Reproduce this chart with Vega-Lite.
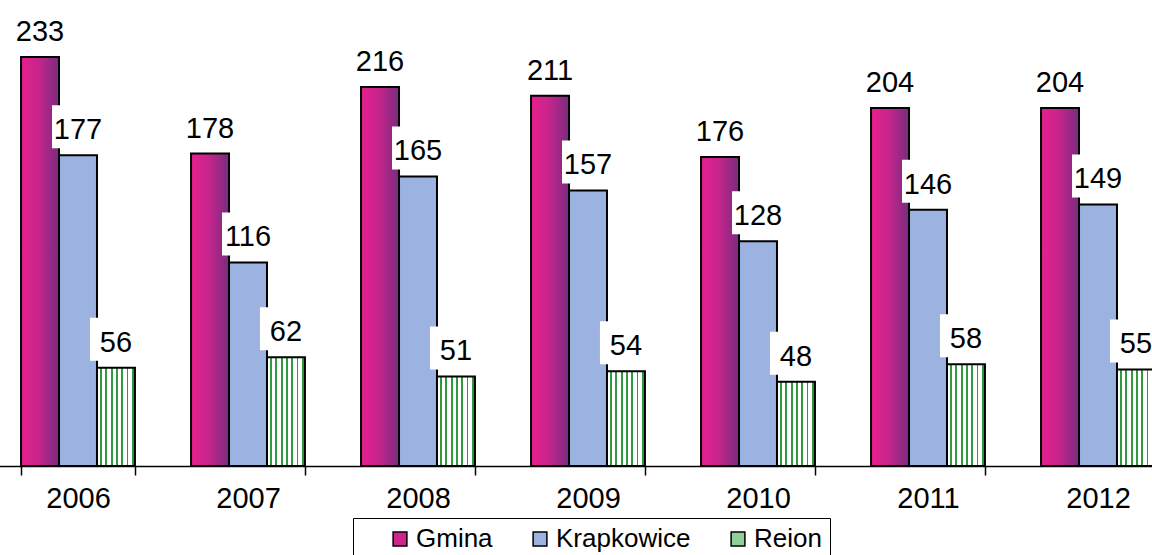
{
  "$schema": "https://vega.github.io/schema/vega-lite/v6.json",
  "width": 1152,
  "height": 466,
  "autosize": {"type": "none"},
  "padding": {"left": 0, "top": 0, "right": 0, "bottom": 89},
  "background": "white",
  "config": {
    "view": {"stroke": null},
    "font": "Liberation Sans",
    "axis": {"labelFont": "Liberation Sans", "labelColor": "black"}
  },
  "data": {
    "values": [
      {"year": "2006", "series": "Gmina", "value": 233},
      {"year": "2006", "series": "Krapkowice", "value": 177},
      {"year": "2006", "series": "Reion", "value": 56},
      {"year": "2007", "series": "Gmina", "value": 178},
      {"year": "2007", "series": "Krapkowice", "value": 116},
      {"year": "2007", "series": "Reion", "value": 62},
      {"year": "2008", "series": "Gmina", "value": 216},
      {"year": "2008", "series": "Krapkowice", "value": 165},
      {"year": "2008", "series": "Reion", "value": 51},
      {"year": "2009", "series": "Gmina", "value": 211},
      {"year": "2009", "series": "Krapkowice", "value": 157},
      {"year": "2009", "series": "Reion", "value": 54},
      {"year": "2010", "series": "Gmina", "value": 176},
      {"year": "2010", "series": "Krapkowice", "value": 128},
      {"year": "2010", "series": "Reion", "value": 48},
      {"year": "2011", "series": "Gmina", "value": 204},
      {"year": "2011", "series": "Krapkowice", "value": 146},
      {"year": "2011", "series": "Reion", "value": 58},
      {"year": "2012", "series": "Gmina", "value": 204},
      {"year": "2012", "series": "Krapkowice", "value": 149},
      {"year": "2012", "series": "Reion", "value": 55}
    ]
  },
  "encoding": {
    "x": {
      "field": "year", "type": "nominal",
      "scale": {"range": [-7, 1183], "paddingInner": 0.33, "paddingOuter": 0.165},
      "axis": {
        "title": null, "labelAngle": 0, "labelFontSize": 29, "labelPadding": 9,
        "tickBand": "extent", "tickSize": 9, "tickColor": "black", "tickWidth": 1.5,
        "domainColor": "black", "domainWidth": 1.5, "grid": false
      }
    },
    "xOffset": {"field": "series", "type": "nominal", "scale": {"domain": ["Gmina", "Krapkowice", "Reion"], "paddingInner": 0, "paddingOuter": 0}},
    "y": {"field": "value", "type": "quantitative", "scale": {"domain": [0, 265.5], "nice": false}, "axis": null}
  },
  "layer": [
    {
      "mark": {"type": "bar", "stroke": "black", "strokeWidth": 2},
      "encoding": {
        "fill": {
          "condition": [
            {"test": "datum.series === 'Gmina'", "value": {"gradient": "linear", "x1": 0, "y1": 0, "x2": 1, "y2": 0, "stops": [{"offset": 0, "color": "#e8208f"}, {"offset": 0.45, "color": "#c8248c"}, {"offset": 1, "color": "#782c7f"}]}},
            {"test": "datum.series === 'Reion'", "value": {"gradient": "linear", "x1": 0, "y1": 0, "x2": 1, "y2": 0, "stops": [
              {"offset": 0, "color": "#ffffff"}, {"offset": 0.08, "color": "#ffffff"}, {"offset": 0.08, "color": "#2f9a3e"}, {"offset": 0.13, "color": "#2f9a3e"}, {"offset": 0.13, "color": "#ffffff"},
              {"offset": 0.22, "color": "#ffffff"}, {"offset": 0.22, "color": "#2f9a3e"}, {"offset": 0.27, "color": "#2f9a3e"}, {"offset": 0.27, "color": "#ffffff"},
              {"offset": 0.36, "color": "#ffffff"}, {"offset": 0.36, "color": "#2f9a3e"}, {"offset": 0.41, "color": "#2f9a3e"}, {"offset": 0.41, "color": "#ffffff"},
              {"offset": 0.50, "color": "#ffffff"}, {"offset": 0.50, "color": "#2f9a3e"}, {"offset": 0.55, "color": "#2f9a3e"}, {"offset": 0.55, "color": "#ffffff"},
              {"offset": 0.64, "color": "#ffffff"}, {"offset": 0.64, "color": "#2f9a3e"}, {"offset": 0.69, "color": "#2f9a3e"}, {"offset": 0.69, "color": "#ffffff"},
              {"offset": 0.78, "color": "#ffffff"}, {"offset": 0.78, "color": "#2f9a3e"}, {"offset": 0.83, "color": "#2f9a3e"}, {"offset": 0.83, "color": "#ffffff"},
              {"offset": 0.92, "color": "#ffffff"}, {"offset": 0.92, "color": "#2f9a3e"}, {"offset": 0.97, "color": "#2f9a3e"}, {"offset": 0.97, "color": "#ffffff"},
              {"offset": 1, "color": "#ffffff"}]}}
          ],
          "field": "series", "type": "nominal",
          "scale": {"domain": ["Gmina", "Krapkowice", "Reion"], "range": ["#d0238e", "#9cb3e2", "#8fcf98"]},
          "legend": {
            "title": null, "orient": "none", "legendX": 353, "legendY": 518, "direction": "horizontal",
            "strokeColor": "black", "padding": 8, "symbolType": "square", "symbolSize": 190,
            "symbolStrokeColor": "black", "symbolStrokeWidth": 1.5, "symbolOffset": 26,
            "labelFontSize": 26, "labelFont": "Liberation Sans", "labelColor": "black",
            "columnPadding": 8, "labelOffset": 3, "fillColor": "white"
          }
        }
      }
    },
    {
      "mark": {"type": "bar", "fill": "white", "width": 52, "yOffset": -7, "y2Offset": -50},
      "encoding": {"y2": {"field": "value"}}
    },
    {
      "mark": {"type": "text", "fontSize": 29, "font": "Liberation Sans", "color": "black", "baseline": "alphabetic", "yOffset": -16},
      "encoding": {"text": {"field": "value", "type": "quantitative"}}
    }
  ]
}
